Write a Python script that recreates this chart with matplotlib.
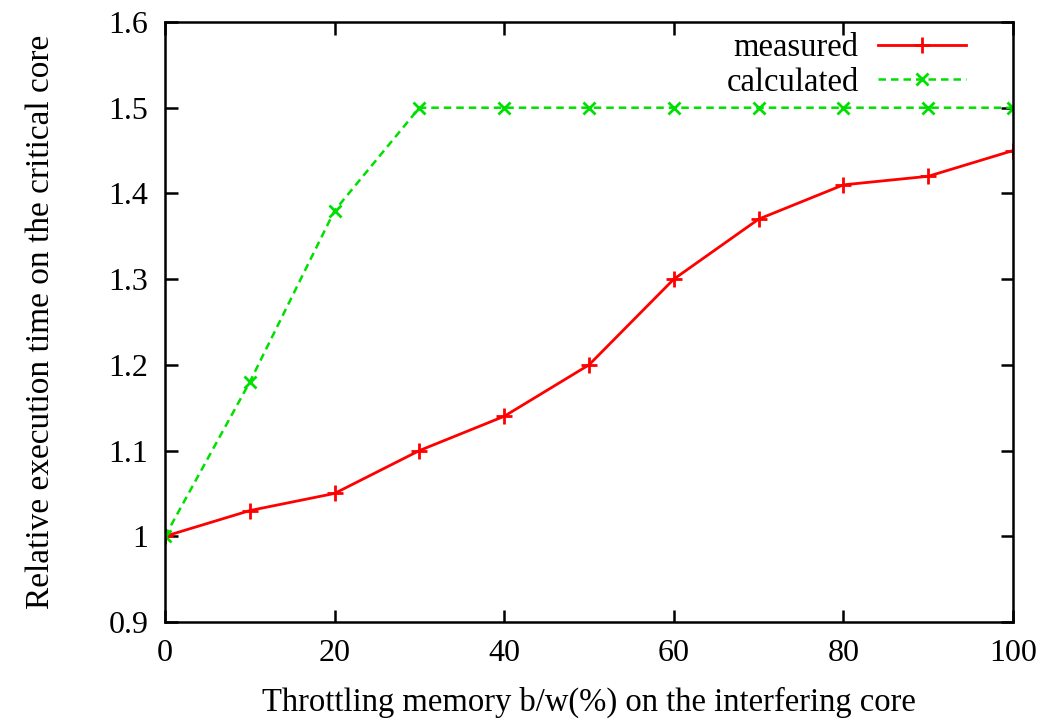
import matplotlib
matplotlib.use("Agg")
import matplotlib.pyplot as plt

x = [0, 10, 20, 30, 40, 50, 60, 70, 80, 90, 100]
measured = [1.00, 1.03, 1.05, 1.10, 1.14, 1.20, 1.30, 1.37, 1.41, 1.42, 1.45]
calculated = [1.00, 1.18, 1.38, 1.50, 1.50, 1.50, 1.50, 1.50, 1.50, 1.50, 1.50]
xticks = [0, 20, 40, 60, 80, 100]
yticks = [0.9, 1.0, 1.1, 1.2, 1.3, 1.4, 1.5, 1.6]
yticklabels = ["0.9", "1", "1.1", "1.2", "1.3", "1.4", "1.5", "1.6"]

plt.rcParams['font.family'] = ['Liberation Serif', 'DejaVu Serif']

fig = plt.figure(figsize=(10.51, 7.22), dpi=100)
ax = fig.add_axes([165/1051, 1-622/722, (1013-165)/1051, (622-22)/722])

ax.plot(x, measured, color='#ff0000', lw=2.0, marker='+', ms=12, mew=2.0,
        label='measured')
ax.plot(x, calculated, color='#00e000', lw=1.8, ls=(0, (3, 2)), marker='x',
        ms=8, mew=2.0, label='calculated')

ax.set_xlim(0, 100)
ax.set_ylim(0.9, 1.6)
ax.set_xticks(xticks)
ax.set_yticks(yticks)
ax.set_yticklabels(yticklabels)
ax.tick_params(direction='in', length=9, width=1.8, top=True, right=True,
               labelsize=23, pad=12)
for s in ax.spines.values():
    s.set_linewidth(1.8)

ax.set_xlabel('Throttling memory b/w(%) on the interfering core', fontsize=23.5, labelpad=14)
ax.set_ylabel('Relative execution time on the critical core', fontsize=24, labelpad=38)

leg = ax.legend(loc='upper right', frameon=False, markerfirst=False, fontsize=23.5,
                handlelength=2.7, handletextpad=0.6, borderaxespad=0.3, labelspacing=0.12,
                bbox_to_anchor=(0.972, 1.02))
for t in leg.get_texts():
    t.set_ha('right')

fig.savefig('out.png', dpi=100)
